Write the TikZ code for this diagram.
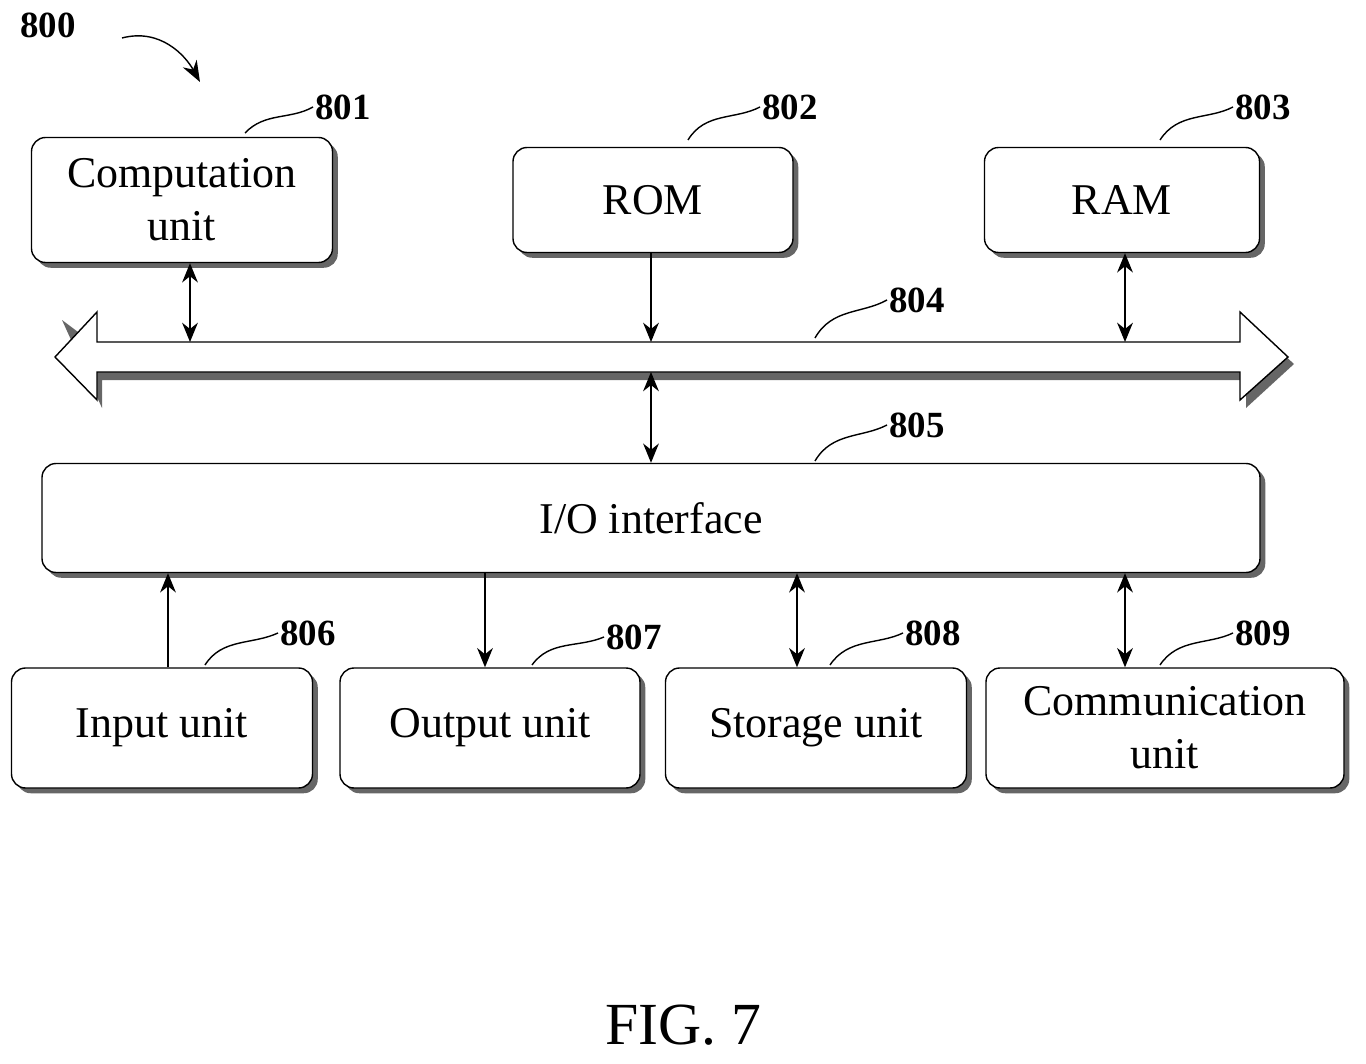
\documentclass[tikz,border=0pt]{standalone}
\usepackage{fontspec}
\setmainfont{Liberation Serif}
\usetikzlibrary{positioning,arrows.meta,shadows}
\tikzset{
  unit/.style={draw,thick,rounded corners=8pt,fill=white,
    drop shadow={shadow xshift=3pt,shadow yshift=-3pt,fill=black!60,opacity=1},
    align=center,font=\fontsize{25}{30}\selectfont,inner sep=0pt},
  link/.style={thick,-{Stealth[length=11pt,width=9pt]}},
  dlink/.style={thick,{Stealth[length=11pt,width=9pt]}-{Stealth[length=11pt,width=9pt]}},
  refnum/.style={font=\fontsize{21}{24}\bfseries\selectfont,anchor=west,inner sep=1pt},
  lead/.style={thick}
}
\begin{document}
\begin{tikzpicture}[x=0.02cm,y=-0.02cm]
\useasboundingbox (0,0) rectangle (1366,1064);
% units
\node[unit,minimum width=301*0.02cm,minimum height=125*0.02cm] (comp) at (182,200) {Computation\\unit};
\node[unit,minimum width=280*0.02cm,minimum height=105*0.02cm] (rom) at (653,200) {ROM};
\node[unit,minimum width=275*0.02cm,minimum height=105*0.02cm] (ram) at (1122,200) {RAM};
\node[unit,minimum width=1218*0.02cm,minimum height=109*0.02cm] (io) at (651,518) {I/O interface};
\node[unit,minimum width=301*0.02cm,minimum height=120*0.02cm] (inp) at (162,728) {Input unit};
\node[unit,minimum width=300*0.02cm,minimum height=120*0.02cm] (outp) at (490,728) {Output unit};
\node[unit,minimum width=301*0.02cm,minimum height=120*0.02cm] (stor) at (816,728) {Storage unit};
\node[unit,minimum width=358*0.02cm,minimum height=120*0.02cm] (comm) at (1165,728) {Communication\\unit};
% bus
\fill[black!60] (62,320) -- (102,350) -- (1246,350) -- (1246,320) -- (1294,364) -- (1246,408) -- (1246,380) -- (102,380) -- (102,408) -- cycle;
\draw[thick,fill=white] (55,357) -- (97,312) -- (97,342) -- (1240,342) -- (1240,312) -- (1288,357) -- (1240,400) -- (1240,372) -- (97,372) -- (97,400) -- cycle;
\coordinate (bustop) at (0,342);
\coordinate (busbot) at (0,372);
% connectors
\draw[dlink] (comp.south -| 190,0) -- (bustop -| 190,0);
\draw[link] (rom.south -| 651,0) -- (bustop -| 651,0);
\draw[dlink] (ram.south -| 1125,0) -- (bustop -| 1125,0);
\draw[dlink] (busbot -| 651,0) -- (io.north -| 651,0);
\draw[link] (inp.north -| 168,0) -- (io.south -| 168,0);
\draw[link] (io.south -| 485,0) -- (outp.north -| 485,0);
\draw[dlink] (io.south -| 797,0) -- (stor.north -| 797,0);
\draw[dlink] (io.south -| 1125,0) -- (comm.north -| 1125,0);
% reference numerals
\node[refnum] (n800) at (18,25) {800};
\draw[thick,-{Stealth[length=12pt]}] (122,38) .. controls (160,28) and (185,55) .. (200,82);
\node[refnum] (n801) at (313,107) {801};
\draw[lead] (245,133) .. controls (265,112) and (290,120) .. (n801.west);
\node[refnum] (n802) at (760,107) {802};
\draw[lead] (688,140) .. controls (705,112) and (735,120) .. (n802.west);
\node[refnum] (n803) at (1233,107) {803};
\draw[lead] (1160,140) .. controls (1178,112) and (1208,120) .. (n803.west);
\node[refnum] (n804) at (887,300) {804};
\draw[lead] (815,338) .. controls (832,308) and (862,314) .. (n804.west);
\node[refnum] (n805) at (887,425) {805};
\draw[lead] (815,461) .. controls (832,432) and (862,438) .. (n805.west);
\node[refnum] (n806) at (278,633) {806};
\draw[lead] (205,665) .. controls (222,638) and (252,645) .. (n806.west);
\node[refnum] (n807) at (604,637) {807};
\draw[lead] (532,665) .. controls (550,640) and (578,648) .. (n807.west);
\node[refnum] (n808) at (903,633) {808};
\draw[lead] (830,665) .. controls (848,638) and (878,645) .. (n808.west);
\node[refnum] (n809) at (1233,633) {809};
\draw[lead] (1160,665) .. controls (1178,638) and (1208,645) .. (n809.west);
% caption
\node[font=\fontsize{34}{40}\selectfont] (fig) at (683,1025) {FIG. 7};
\end{tikzpicture}
\end{document}
